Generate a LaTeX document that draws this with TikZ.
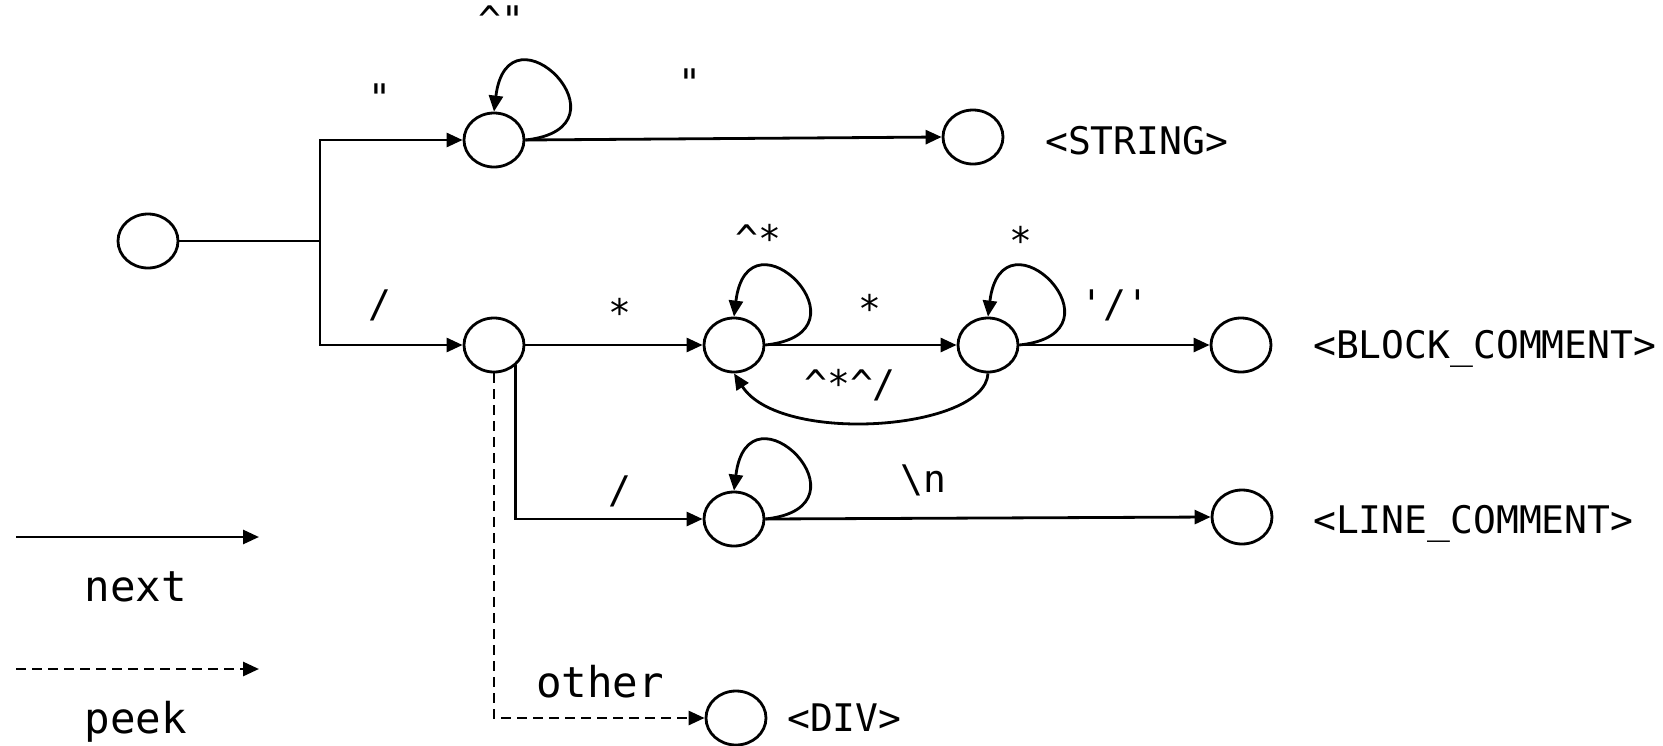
\documentclass[tikz,border=0pt]{standalone}
\usepackage{fontspec}
\setmonofont{DejaVu Sans Mono}
\usetikzlibrary{arrows.meta,shapes.geometric}
\begin{document}
\begin{tikzpicture}[x=1pt,y=-1pt,
  state/.style={ellipse,draw,line width=2.8pt,minimum width=60pt,minimum height=54pt,inner sep=0pt},
  edge/.style={line width=2.8pt,-{Triangle[length=16pt,width=14pt]}},
  plain/.style={line width=2.8pt},
  peekline/.style={edge,dash pattern=on 10pt off 6pt},
  loopedge/.style={edge},
  lbl/.style={font=\ttfamily\fontsize{38}{40}\selectfont,inner sep=0pt},
  biglbl/.style={font=\ttfamily\fontsize{42.5}{45}\selectfont,inner sep=0pt}]
\useasboundingbox (0,0) rectangle (1663,745);

% states
\node[state] (start) at (148,241) {};
\node[state] (str) at (494,140) {};
\node[state] (strEnd) at (973,137) {};
\node[state] (slash) at (494,345) {};
\node[state] (A) at (734,345) {};
\node[state] (B) at (988,345) {};
\node[state] (bcEnd) at (1241,345) {};
\node[state] (C) at (734,519) {};
\node[state] (lcEnd) at (1242,517) {};
\node[state] (div) at (736,718) {};
\coordinate (fork) at (320,241);

% token names
\node[lbl,anchor=west] (tString) at (1045,141) {<STRING>};
\node[lbl,anchor=west] (tBlock) at (1313,349) {<BLOCK\_COMMENT>};
\node[lbl,anchor=west] (tLine) at (1313,524) {<LINE\_COMMENT>};
\node[lbl,anchor=west] (tDiv) at (787,718) {<DIV>};

% transitions
\draw[plain] (start.east) -- (fork);
\draw[edge] (fork) |- (str.west);
\draw[edge] (fork) |- (slash.west);
\draw[loopedge] (str.east) .. controls +(112,-12) and +(14,-114) .. (str.north);
\draw[edge] (str.east) -- (strEnd.west);
\draw[edge] (slash.east) -- (A.west);
\draw[loopedge] (A.east) .. controls +(112,-12) and +(14,-114) .. (A.north);
\draw[edge] (A.east) -- (B.west);
\draw[loopedge] (B.east) .. controls +(112,-12) and +(14,-114) .. (B.north);
\draw[edge] (B.east) -- (bcEnd.west);
\draw[edge] (B.south) .. controls +(-3,57) and +(46,72) .. (A.south);
\draw[edge] (slash.-43) |- (C.west);
\draw[loopedge] (C.east) .. controls +(112,-12) and +(14,-114) .. (C.north);
\draw[edge] (C.east) -- (lcEnd.west);
\draw[peekline] (slash.south) |- (div.west);

% transition labels
\node[lbl] (l1) at (380,98) {"};
\node[lbl] (l2) at (501,20) {\textasciicircum"};
\node[lbl] (l3) at (690,83) {"};
\node[lbl] (l4) at (380,305) {/};
\node[lbl] (l5) at (620,312) {*};
\node[lbl] (l6) at (758,238) {\textasciicircum*};
\node[lbl] (l7) at (870,308) {*};
\node[lbl] (l8) at (1021,240) {*};
\node[lbl] (l9) at (1115,305) {'/'};
\node[lbl] (l10) at (850,385) {\textasciicircum*\textasciicircum/};
\node[lbl] (l11) at (620,491) {/};
\node[lbl] (l12) at (923,480) {\textbackslash n};
\node[biglbl] (l13) at (600,682) {other};

% legend
\coordinate (n1) at (16,537);
\coordinate (n2) at (259,537);
\coordinate (p1) at (16,669);
\coordinate (p2) at (259,669);
\draw[edge] (n1) -- (n2);
\draw[peekline] (p1) -- (p2);
\node[biglbl] (next) at (136,587) {next};
\node[biglbl] (peek) at (136,722) {peek};
\end{tikzpicture}
\end{document}
